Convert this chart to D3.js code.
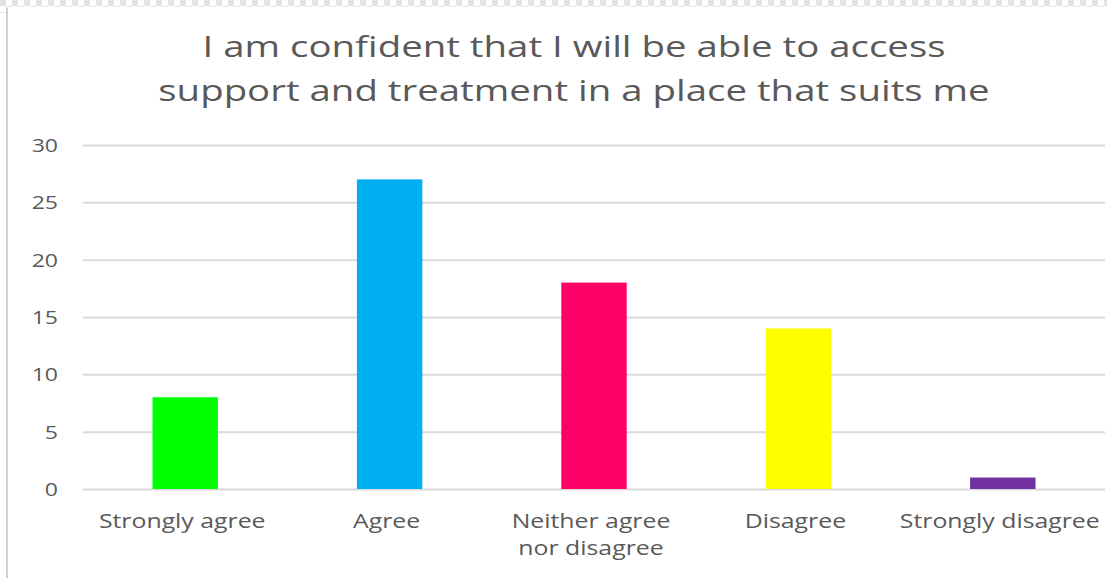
<!DOCTYPE html>
<html>
<head>
<meta charset="utf-8">
<script src="https://cdn.jsdelivr.net/npm/d3@7"></script>
<style>
  html, body { margin: 0; padding: 0; background: #fff; }
  svg { display: block; }
  text { font-family: "Open Sans", "DejaVu Sans", sans-serif; fill: #595959; }
</style>
</head>
<body>
<svg id="chart" width="1107" height="578"></svg>
<script>
const titleLines = ["I am confident that I will be able to access",
                    "support and treatment in a place that suits me"];
const categories = ["Strongly agree", "Agree", "Neither agree\nnor disagree", "Disagree", "Strongly disagree"];
const values = [8, 27, 18, 14, 1];
const barColors = ["#00ff00", "#00b0f0", "#ff0066", "#ffff00", "#7030a0"];
const yTicks = [0, 5, 10, 15, 20, 25, 30];

const svg = d3.select("#chart");
const W = 1107, H = 578;
const margin = { top: 145, right: 2, bottom: 89, left: 83 };
const stretch = 1.28; // wide lettering used throughout the chart

// checkered strip along the top edge
const defs = svg.append("defs");
const pat = defs.append("pattern").attr("id", "checker")
  .attr("width", 12).attr("height", 12).attr("patternUnits", "userSpaceOnUse");
pat.append("rect").attr("width", 12).attr("height", 12).attr("fill", "#fff");
pat.append("rect").attr("width", 6).attr("height", 6).attr("fill", "#e3e3e3");
pat.append("rect").attr("x", 6).attr("y", 6).attr("width", 6).attr("height", 6).attr("fill", "#e3e3e3");
svg.append("rect").attr("x", 0).attr("y", 0).attr("width", W).attr("height", 7).attr("fill", "url(#checker)");
svg.append("rect").attr("x", 0).attr("y", 7).attr("width", 7).attr("height", 6).attr("fill", "url(#checker)");
// frame edge on the left
svg.append("line").attr("x1", 7).attr("x2", 7).attr("y1", 8).attr("y2", H)
  .attr("stroke", "#d0d0d0").attr("stroke-width", 2);

const x = d3.scaleBand().domain(categories)
  .range([margin.left, W - margin.right]).paddingInner(0.68).paddingOuter(0.34);
const y = d3.scaleLinear().domain([0, 30]).range([H - margin.bottom, margin.top]);

// title
svg.append("g").selectAll("text").data(titleLines).join("text")
  .attr("transform", (d, i) => `translate(574,${57 + i * 44}) scale(${stretch},1)`)
  .attr("text-anchor", "middle").attr("font-size", 30).text(d => d);

// gridlines and y labels
const yAxis = d3.axisLeft(y).tickValues(yTicks).tickSize(-(W - margin.right - margin.left)).tickPadding(25);
const gy = svg.append("g").attr("transform", `translate(${margin.left},0)`).call(yAxis);
gy.select(".domain").remove();
gy.selectAll(".tick line").attr("stroke", "#d9d9d9").attr("stroke-width", 2);
gy.selectAll(".tick text")
  .attr("font-size", 18).attr("fill", "#595959").attr("dy", "0.36em")
  .attr("transform", `translate(-25,0) scale(${stretch},1)`).attr("x", 0);

// bars
svg.append("g").selectAll("rect").data(values).join("rect")
  .attr("x", (d, i) => x(categories[i]))
  .attr("width", x.bandwidth())
  .attr("y", d => y(d))
  .attr("height", d => y(0) - y(d))
  .attr("fill", (d, i) => barColors[i]);

// category labels
const gx = svg.append("g").selectAll("text").data(categories).join("text")
  .attr("text-anchor", "middle").attr("font-size", 19.4)
  .attr("transform", d => `translate(${x(d) + x.bandwidth() / 2 - 3},${y(0) + 39}) scale(${stretch},1)`);
gx.selectAll("tspan").data(d => d.split("\n")).join("tspan")
  .attr("x", 0).attr("dy", (d, i) => i === 0 ? 0 : 27).text(d => d);
</script>
</body>
</html>
